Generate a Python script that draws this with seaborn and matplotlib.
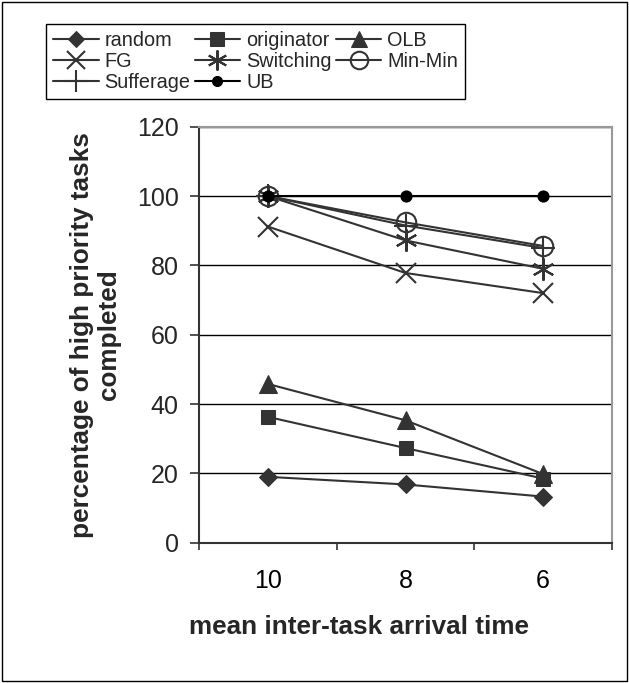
import numpy as np
import pandas as pd
import matplotlib
matplotlib.use("Agg")
import matplotlib.pyplot as plt
from matplotlib.patches import Rectangle
import seaborn as sns

# valeurs
arrival = ["10", "8", "6"]
random_vals = [19, 16.8, 13.3]
originator_vals = [36.3, 27.3, 18.5]
olb_vals = [45.8, 35.3, 19.8]
fg_vals = [91.2, 77.8, 72]
switching_vals = [100, 87.2, 79]
minmin_vals = [100, 92.4, 85.6]
sufferage_vals = [100, 91.5, 85]
ub_vals = [100, 100, 100]

series_names = ["random", "originator", "OLB", "FG", "Switching", "Min-Min", "Sufferage", "UB"]
series_vals = [random_vals, originator_vals, olb_vals, fg_vals, switching_vals,
               minmin_vals, sufferage_vals, ub_vals]

df = pd.DataFrame({
    "arrival": arrival * len(series_names),
    "pct": np.concatenate(series_vals),
    "series": np.repeat(series_names, len(arrival)),
})

dark = "#333333"
styles = {
    "random":    dict(marker="D", markersize=9.5, markerfacecolor=dark, markeredgecolor=dark, color=dark),
    "originator": dict(marker="s", markersize=10.5, markerfacecolor=dark, markeredgecolor=dark, color=dark),
    "OLB":       dict(marker="^", markersize=13, markerfacecolor=dark, markeredgecolor=dark, color=dark),
    "FG":        dict(marker="x", markersize=15, markeredgewidth=1.5, markeredgecolor=dark, color=dark),
    "Switching": dict(marker=(6, 2, 0), markersize=16, markeredgewidth=1.5, markeredgecolor=dark, color=dark),
    "Min-Min":   dict(marker="o", markersize=14, markerfacecolor="none", markeredgewidth=1.5, markeredgecolor=dark, color=dark),
    "Sufferage": dict(marker="+", markersize=17, markeredgewidth=1.5, markeredgecolor=dark, color=dark),
    "UB":        dict(marker="o", markersize=8, markerfacecolor="black", markeredgecolor="black", color="black"),
}

sns.set_style("white")
plt.rcParams['font.family'] = ['Liberation Sans', 'DejaVu Sans']

fig = plt.figure(figsize=(6.29, 6.83), dpi=100)
ax = fig.add_axes([199 / 629, 1 - 542.7 / 683, 413 / 629, 416 / 683])

for name in series_names:
    sub = df[df["series"] == name]
    sns.lineplot(data=sub, x="arrival", y="pct", ax=ax, sort=False, errorbar=None,
                 linewidth=1.5, label=name, **styles[name])

ax.set_xlim(-0.5, 2.5)
ax.set_ylim(0, 120)
ax.set_yticks(np.arange(0, 121, 20))
ax.set_xticks([0, 1, 2])
ax.set_xticklabels(arrival)
ax.set_xticks([-0.5, 0.5, 1.5, 2.5], minor=True)
ax.tick_params(axis="x", which="major", length=0, pad=19, labelsize=18, colors="black")
ax.tick_params(axis="x", which="minor", length=5, width=1.2, color=dark, bottom=True, direction="out")
ax.tick_params(axis="y", length=6.5, width=1.2, color=dark, pad=8, labelsize=18, left=True, direction="out")

ax.grid(axis="y", color="black", linewidth=1)
ax.grid(axis="x", visible=False)
for s in ["left", "bottom"]:
    ax.spines[s].set_color(dark)
    ax.spines[s].set_linewidth(1.5)
for s in ["top", "right"]:
    ax.spines[s].set_color("#999999")
    ax.spines[s].set_linewidth(1.5)

ax.set_xlabel("mean inter-task arrival time", fontsize=18.8, fontweight="bold")
ax.xaxis.set_label_coords(160 / 413, -0.175)
ax.set_ylabel("percentage of high priority tasks\ncompleted", fontsize=18.8, fontweight="bold",
              multialignment="center", linespacing=1.15)
ax.yaxis.set_label_coords(-0.19, 0.5)

handles, labels = ax.get_legend_handles_labels()
ax.get_legend().remove()
order = ["random", "FG", "Sufferage", "originator", "Switching", "UB", "OLB", "Min-Min"]
hmap = dict(zip(labels, handles))
fig.legend([hmap[n] for n in order], order, ncol=3, loc="upper left",
           bbox_to_anchor=(46 / 629, 1 - 24 / 683), frameon=True, fancybox=False,
           edgecolor="black", fontsize=14.3, handlelength=2.3, handletextpad=0.3,
           columnspacing=0.2, labelspacing=0.1, borderpad=0.35, borderaxespad=0,
           framealpha=1, markerscale=0.9)

fig.patches.append(Rectangle((0.003, 0.003), 0.994, 0.994, transform=fig.transFigure,
                             fill=False, edgecolor="black", linewidth=1))

fig.savefig("out.png", dpi=100)
